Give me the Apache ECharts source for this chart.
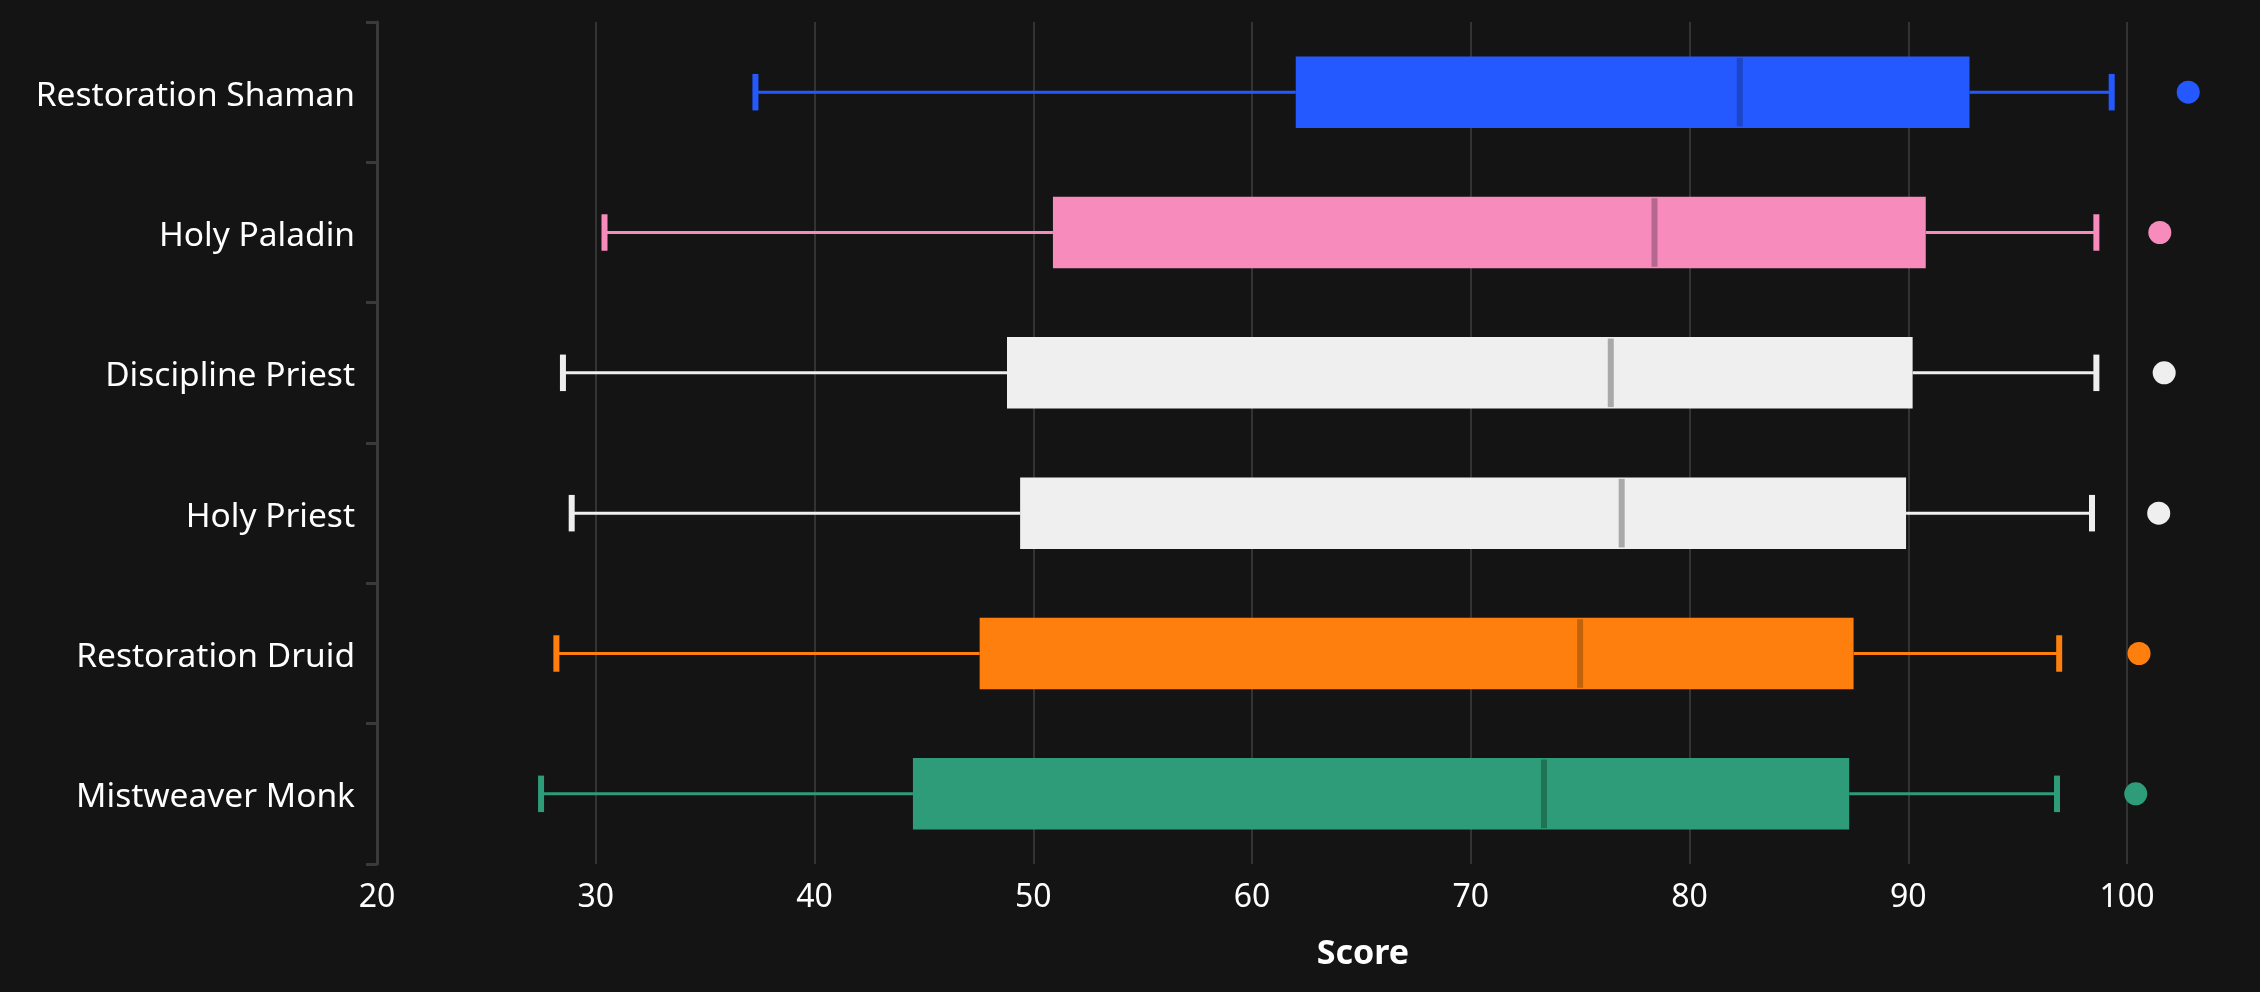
<!DOCTYPE html>
<html>
<head>
<meta charset="utf-8">
<style>
html,body{margin:0;padding:0;background:#141414;}
#chart{width:2260px;height:992px;}
</style>
<script src="https://cdn.jsdelivr.net/npm/echarts@6/dist/echarts.min.js"></script>
</head>
<body>
<div id="chart"></div>
<script>
const categories = ['Restoration Shaman','Holy Paladin','Discipline Priest','Holy Priest','Restoration Druid','Mistweaver Monk'];
const whiskerLow  = [37.3, 30.4, 28.5, 28.9, 28.2, 27.5];
const q1Values    = [62.0, 50.9, 48.8, 49.4, 47.55, 44.5];
const medianValues= [82.3, 78.4, 76.4, 76.9, 75.0, 73.35];
const q3Values    = [92.8, 90.8, 90.2, 89.9, 87.5, 87.3];
const whiskerHigh = [99.3, 98.6, 98.6, 98.4, 96.9, 96.8];
const outlierValues = [102.8, 101.5, 101.7, 101.45, 100.55, 100.4];
const xMin = 20, xMax = 100, xStep = 10;

const boxColors    = ['#2459FF','#F78CBC','#EFEFEF','#EFEFEF','#FF7F0E','#2E9C79'];
const medianColors = ['#1C45C8','#B56790','#A9A9A9','#A9A9A9','#C2620B','#1E7454'];

const FONT = 'Noto Sans';

const boxData = categories.map((c, i) => [i, whiskerLow[i], q1Values[i], medianValues[i], q3Values[i], whiskerHigh[i]]);
const outlierData = categories.map((c, i) => ({value: [outlierValues[i], i], itemStyle: {color: boxColors[i], opacity: 1}}));

const chart = echarts.init(document.getElementById('chart'));
chart.setOption({
  backgroundColor: '#141414',
  animation: false,
  grid: {left: 377, right: 133, top: 22, bottom: 128, containLabel: false},
  xAxis: {
    type: 'value', min: xMin, max: xMax, interval: xStep,
    name: 'Score', nameLocation: 'middle', nameGap: 73,
    nameTextStyle: {color: '#ffffff', fontSize: 34, fontFamily: FONT, fontWeight: 'bold', padding: [0, 0, 0, 222]},
    axisLine: {show: false}, axisTick: {show: false},
    axisLabel: {color: '#ffffff', fontSize: 32, fontFamily: FONT, margin: 18},
    splitLine: {show: true, lineStyle: {color: '#333333', width: 2}}
  },
  yAxis: {
    type: 'category', data: categories, inverse: true,
    axisLine: {show: true, lineStyle: {color: '#3a3a3a', width: 3}},
    axisTick: {show: true, length: 11, lineStyle: {color: '#3a3a3a', width: 3}},
    axisLabel: {
      color: '#ffffff', fontSize: 33.5, fontFamily: FONT, margin: 22,
      formatter: function (v) { return '{a|' + v + '}'; },
      rich: {a: {color: '#ffffff', fontSize: 33.5, fontFamily: FONT, padding: [8, 0, 0, 0]}}
    },
    splitLine: {show: false}
  },
  series: [{
    type: 'custom',
    data: boxData,
    encode: {x: [1,2,3,4,5], y: 0},
    renderItem: function (params, api) {
      const cat = api.value(0);
      const idx = params.dataIndex;
      const pLo = api.coord([api.value(1), cat]);
      const pQ1 = api.coord([api.value(2), cat]);
      const pMed = api.coord([api.value(3), cat]);
      const pQ3 = api.coord([api.value(4), cat]);
      const pHi = api.coord([api.value(5), cat]);
      const band = api.size([0, 1])[1];
      const boxH = band * 0.51;
      const capH = band * 0.26;
      const yc = pLo[1];
      const col = boxColors[idx];
      const mcol = medianColors[idx];
      return {
        type: 'group',
        children: [
          {type: 'line', shape: {x1: pLo[0], y1: yc, x2: pQ1[0], y2: yc}, style: {stroke: col, lineWidth: 3}},
          {type: 'line', shape: {x1: pQ3[0], y1: yc, x2: pHi[0], y2: yc}, style: {stroke: col, lineWidth: 3}},
          {type: 'rect', shape: {x: pLo[0] - 3, y: yc - capH / 2, width: 6, height: capH}, style: {fill: col}},
          {type: 'rect', shape: {x: pHi[0] - 3, y: yc - capH / 2, width: 6, height: capH}, style: {fill: col}},
          {type: 'rect', shape: {x: pQ1[0], y: yc - boxH / 2, width: pQ3[0] - pQ1[0], height: boxH}, style: {fill: col}},
          {type: 'rect', shape: {x: pMed[0] - 3, y: yc - boxH / 2 + 1.5, width: 6, height: boxH - 3}, style: {fill: mcol}}
        ]
      };
    }
  }, {
    type: 'scatter',
    data: outlierData,
    symbol: 'circle',
    symbolSize: 23,
    clip: false
  }]
});
</script>
</body>
</html>
